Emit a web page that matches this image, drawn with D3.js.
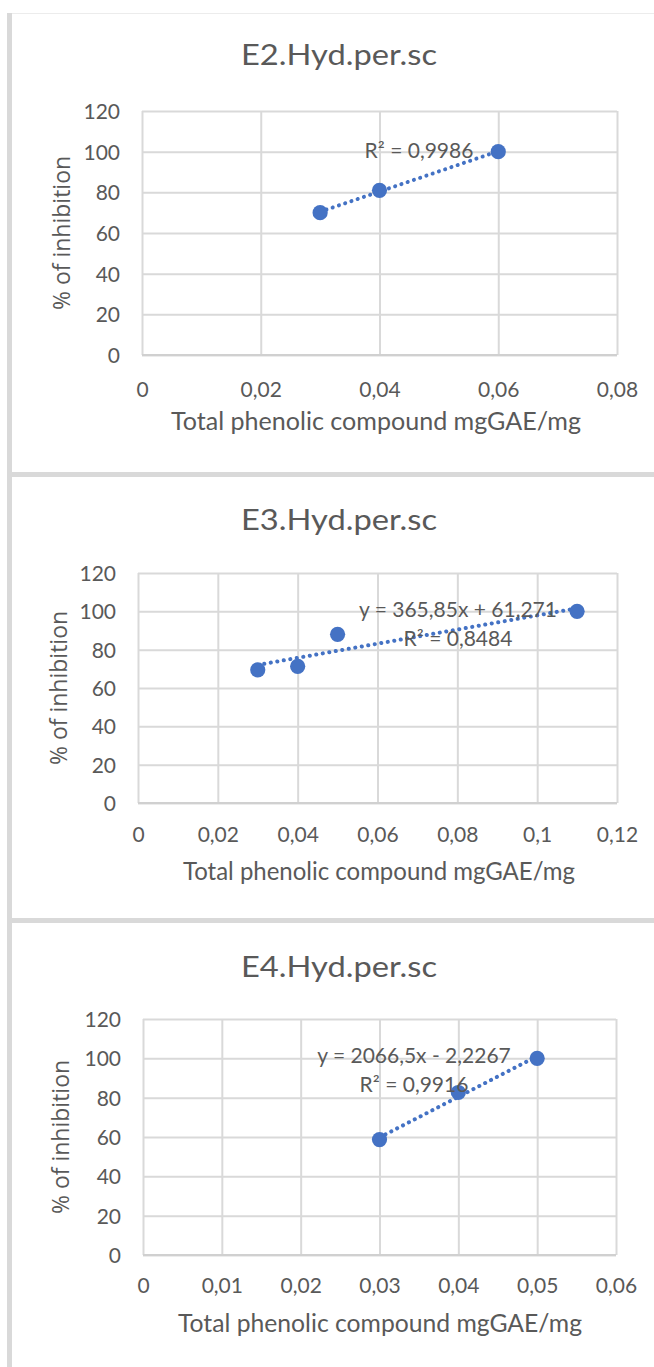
<!DOCTYPE html>
<html>
<head>
<meta charset="utf-8">
<script src="https://cdn.jsdelivr.net/npm/d3@7"></script>
<style>
  html, body { margin: 0; padding: 0; background: #ffffff; }
  svg { display: block; }
</style>
</head>
<body>
<svg id="chart" width="654" height="1367"></svg>
<script>
// ---------------- DATA ----------------
const chartTitles = ["E2.Hyd.per.sc", "E3.Hyd.per.sc", "E4.Hyd.per.sc"];
const xAxisTitle = "Total phenolic compound mgGAE/mg";
const yAxisTitle = "% of inhibition";

const e2X = [0.03, 0.04, 0.06];
const e2Y = [70, 81, 100];
const e3X = [0.03, 0.04, 0.05, 0.11];
const e3Y = [69.5, 71.3, 88, 100];
const e4X = [0.03, 0.04, 0.05];
const e4Y = [58.67, 82.63, 100];

const e2XTicks = [0, 0.02, 0.04, 0.06, 0.08];
const e3XTicks = [0, 0.02, 0.04, 0.06, 0.08, 0.1, 0.12];
const e4XTicks = [0, 0.01, 0.02, 0.03, 0.04, 0.05, 0.06];
const yTicks = [0, 20, 40, 60, 80, 100, 120];

const e2TrendLabel = ["R² = 0,9986"];
const e3TrendLabel = ["y = 365,85x + 61,271", "R² = 0,8484"];
const e4TrendLabel = ["y = 2066,5x - 2,2267", "R² = 0,9916"];

// ---------------- LAYOUT ----------------
const panels = [
  { title: chartTitles[0], xs: e2X, ys: e2Y, xTicks: e2XTicks, label: e2TrendLabel,
    plot: { l: 142, r: 617, t: 111, b: 355 }, titleY: 65, tickY: 397,
    xTitleX: 376, xTitleY: 430, xTitleW: 410, yTitleX: 70, labelX: 419, labelY: 158 },
  { title: chartTitles[1], xs: e3X, ys: e3Y, xTicks: e3XTicks, label: e3TrendLabel,
    plot: { l: 138, r: 617, t: 573, b: 803 }, titleY: 530, tickY: 842,
    xTitleX: 379, xTitleY: 880, xTitleW: 392, yTitleX: 67, labelX: 458, labelY: 617 },
  { title: chartTitles[2], xs: e4X, ys: e4Y, xTicks: e4XTicks, label: e4TrendLabel,
    plot: { l: 143, r: 616, t: 1019, b: 1255 }, titleY: 977, tickY: 1293,
    xTitleX: 380, xTitleY: 1332, xTitleW: 404, yTitleX: 69, labelX: 414, labelY: 1063 }
];

const TEXT = "#595959";
const GRID = "#d9d9d9";
const BLUE = "#4472C4";
const FONT = "Lato, 'Open Sans', sans-serif";

const locale = d3.formatLocale({ decimal: ",", thousands: ".", grouping: [3], currency: ["", ""] });
const fmt = locale.format("~f");

const svg = d3.select("#chart");

// frame
const frame = svg.append("g");
frame.append("line").attr("x1", 12).attr("x2", 654).attr("y1", 13.5).attr("y2", 13.5)
  .attr("stroke", "#ececec").attr("stroke-width", 1);
frame.append("rect").attr("x", 7).attr("y", 13).attr("width", 5).attr("height", 1367 - 13).attr("fill", GRID);
frame.append("rect").attr("x", 7).attr("y", 472).attr("width", 654 - 7).attr("height", 5).attr("fill", GRID);
frame.append("rect").attr("x", 7).attr("y", 918).attr("width", 654 - 7).attr("height", 5).attr("fill", GRID);

function regression(xs, ys) {
  const mx = d3.mean(xs), my = d3.mean(ys);
  let sxy = 0, sxx = 0;
  xs.forEach((x, i) => { sxy += (x - mx) * (ys[i] - my); sxx += (x - mx) * (x - mx); });
  const m = sxy / sxx;
  return { m, b: my - m * mx };
}

panels.forEach(p => {
  const g = svg.append("g");
  const x = d3.scaleLinear().domain([d3.min(p.xTicks), d3.max(p.xTicks)]).range([p.plot.l, p.plot.r]);
  const y = d3.scaleLinear().domain([0, 120]).range([p.plot.b, p.plot.t]);
  const w = p.plot.r - p.plot.l, h = p.plot.b - p.plot.t;

  // title
  g.append("text").attr("x", 339).attr("y", p.titleY).attr("text-anchor", "middle")
    .attr("font-family", FONT).attr("font-size", 28.5).attr("fill", TEXT)
    .attr("textLength", 196).attr("lengthAdjust", "spacingAndGlyphs").text(p.title);

  // vertical gridlines (x axis)
  const xAxis = d3.axisBottom(x).tickValues(p.xTicks).tickSize(-h).tickFormat(fmt).tickPadding(0);
  const xg = g.append("g").attr("transform", `translate(0,${p.plot.b})`).call(xAxis);
  xg.select(".domain").remove();
  xg.selectAll(".tick line").attr("stroke", GRID).attr("stroke-width", 2);
  xg.selectAll(".tick text").attr("y", p.tickY - p.plot.b).attr("dy", 0)
    .attr("font-family", FONT).attr("font-size", 21).attr("fill", TEXT);

  // horizontal gridlines (y axis)
  const yAxis = d3.axisLeft(y).tickValues(yTicks).tickSize(-w).tickFormat(fmt).tickPadding(22);
  const yg = g.append("g").attr("transform", `translate(${p.plot.l},0)`).call(yAxis);
  yg.select(".domain").remove();
  yg.selectAll(".tick line").attr("stroke", GRID).attr("stroke-width", 2);
  yg.selectAll(".tick text").attr("x", -22).attr("dy", "0.36em")
    .attr("font-family", FONT).attr("font-size", 21).attr("fill", TEXT);
  // baseline axis a bit darker
  g.append("line").attr("x1", p.plot.l).attr("x2", p.plot.r).attr("y1", y(0)).attr("y2", y(0))
    .attr("stroke", "#d0d0d0").attr("stroke-width", 2);

  // axis titles
  g.append("text").attr("x", p.xTitleX).attr("y", p.xTitleY).attr("text-anchor", "middle")
    .attr("font-family", FONT).attr("font-size", 24.5).attr("fill", TEXT)
    .attr("textLength", p.xTitleW).attr("lengthAdjust", "spacingAndGlyphs").text(xAxisTitle);
  const yMid = (p.plot.t + p.plot.b) / 2;
  g.append("text").attr("transform", `translate(${p.yTitleX},${yMid}) rotate(-90)`)
    .attr("text-anchor", "middle")
    .attr("font-family", "'Open Sans', sans-serif").attr("font-size", 23).attr("fill", TEXT).text(yAxisTitle);

  // trendline
  const reg = regression(p.xs, p.ys);
  const x0 = d3.min(p.xs), x1 = d3.max(p.xs);
  g.append("line")
    .attr("x1", x(x0)).attr("y1", y(reg.m * x0 + reg.b))
    .attr("x2", x(x1)).attr("y2", y(reg.m * x1 + reg.b))
    .attr("stroke", BLUE).attr("stroke-width", 4)
    .attr("stroke-linecap", "round").attr("stroke-dasharray", "0.1 6.5");

  // points
  g.selectAll("circle.pt").data(p.xs.map((d, i) => [d, p.ys[i]])).join("circle")
    .attr("class", "pt").attr("cx", d => x(d[0])).attr("cy", d => y(d[1])).attr("r", 7.6)
    .attr("fill", BLUE);

  // trend label
  const lt = g.append("text").attr("text-anchor", "middle")
    .attr("font-family", FONT).attr("font-size", 21).attr("fill", TEXT);
  p.label.forEach((s, i) => {
    lt.append("tspan").attr("x", p.labelX).attr("y", p.labelY + i * 28.5).text(s);
  });
});
</script>
</body>
</html>
